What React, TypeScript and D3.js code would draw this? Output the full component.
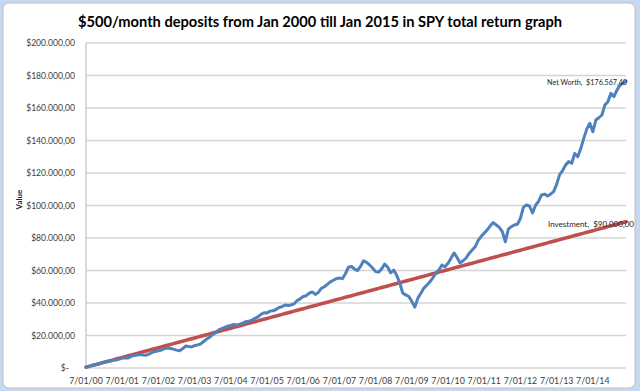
import React, { useRef, useEffect } from "react";
import * as d3 from "d3";

// monthly values, Jan 2000 .. Dec 2014
const netWorth = [
  500, 990, 1580, 2030, 2490, 3050, 3500, 4080, 4350, 4810, 4950, 5480,
  6150, 6100, 6200, 7200, 7750, 8050, 8300, 8000, 7900, 8700, 9600, 10200,
  10600, 11000, 12000, 12300, 12000, 11600, 11000, 10600, 11800, 13500, 13200, 13000,
  13800, 14200, 14800, 16300, 17800, 19000, 20500, 21800, 23400, 24200, 25000, 25800,
  26200, 26800, 26500, 27000, 27600, 28500, 28800, 29500, 30500, 31500, 33000, 34000,
  33800, 35000, 35200, 36000, 37200, 37800, 38800, 38500, 38800, 39500, 41500, 42500,
  44000, 44500, 46000, 46800, 45300, 46500, 49000, 50000, 51500, 53000, 54000, 55000,
  55400, 55000, 58000, 62000, 62500, 60800, 60000, 62500, 66000, 65000, 63400, 61500,
  59300, 59000, 61000, 64000, 62000, 58600, 60300, 57000, 52300, 46100, 45000, 44000,
  41000, 37500, 43000, 46000, 49200, 51000, 53100, 55500, 58500, 60500, 63400, 62200,
  64500, 67500, 70800, 68000, 64600, 66000, 67700, 70500, 72600, 74600, 78500, 81000,
  83000, 85000, 87500, 89500, 88000, 86500, 83900, 77700, 85500, 87000, 88000, 88500,
  92000, 99000, 100300, 99700, 95400, 100000, 102500, 106500, 107000, 105800, 107000, 108500,
  113000, 119000, 121500, 125000, 127000, 126000, 132000, 130000, 135000, 141300, 147000, 150600,
  145400, 152600, 154000, 155700, 161800, 163900, 169000, 167000, 171000, 174000, 175200, 176567.4,
];

const investment = [
  500, 1000, 1500, 2000, 2500, 3000, 3500, 4000, 4500, 5000, 5500, 6000,
  6500, 7000, 7500, 8000, 8500, 9000, 9500, 10000, 10500, 11000, 11500, 12000,
  12500, 13000, 13500, 14000, 14500, 15000, 15500, 16000, 16500, 17000, 17500, 18000,
  18500, 19000, 19500, 20000, 20500, 21000, 21500, 22000, 22500, 23000, 23500, 24000,
  24500, 25000, 25500, 26000, 26500, 27000, 27500, 28000, 28500, 29000, 29500, 30000,
  30500, 31000, 31500, 32000, 32500, 33000, 33500, 34000, 34500, 35000, 35500, 36000,
  36500, 37000, 37500, 38000, 38500, 39000, 39500, 40000, 40500, 41000, 41500, 42000,
  42500, 43000, 43500, 44000, 44500, 45000, 45500, 46000, 46500, 47000, 47500, 48000,
  48500, 49000, 49500, 50000, 50500, 51000, 51500, 52000, 52500, 53000, 53500, 54000,
  54500, 55000, 55500, 56000, 56500, 57000, 57500, 58000, 58500, 59000, 59500, 60000,
  60500, 61000, 61500, 62000, 62500, 63000, 63500, 64000, 64500, 65000, 65500, 66000,
  66500, 67000, 67500, 68000, 68500, 69000, 69500, 70000, 70500, 71000, 71500, 72000,
  72500, 73000, 73500, 74000, 74500, 75000, 75500, 76000, 76500, 77000, 77500, 78000,
  78500, 79000, 79500, 80000, 80500, 81000, 81500, 82000, 82500, 83000, 83500, 84000,
  84500, 85000, 85500, 86000, 86500, 87000, 87500, 88000, 88500, 89000, 89500, 90000,
];

const tickLabels = [
  "7/01/00", "7/01/01", "7/01/02", "7/01/03", "7/01/04", "7/01/05", "7/01/06", "7/01/07",
  "7/01/08", "7/01/09", "7/01/10", "7/01/11", "7/01/12", "7/01/13", "7/01/14",
];

const yTicks = [0, 20000, 40000, 60000, 80000, 100000, 120000, 140000, 160000, 180000, 200000];

const fmtMoney = (v: number) => {
  if (v === 0) return "$-";
  const [int, dec] = v.toFixed(2).split(".");
  return "$" + int.replace(/\B(?=(\d{3})+(?!\d))/g, ".") + "," + dec;
};

const App = () => {
  const svgRef = useRef<SVGSVGElement>(null);

  useEffect(() => {
    const width = 640;
    const height = 391;
    const svg = d3.select(svgRef.current).attr("width", width).attr("height", height);
    svg.selectAll("*").remove();

    const font = "Lato, 'Open Sans', sans-serif";
    const left = 86, right = 626, top = 43, bottom = 368;

    // window frame + chart area
    svg.append("rect").attr("width", width).attr("height", height).attr("fill", "#c6d9f1");
    svg.append("rect")
      .attr("x", 3).attr("y", 3).attr("width", 632).attr("height", 385)
      .attr("rx", 6).attr("fill", "#fff").attr("stroke", "#bfbfbf");

    const x = d3.scaleLinear().domain([0, netWorth.length - 1]).range([left, right]);
    const y = d3.scaleLinear().domain([0, 200000]).range([bottom, top]);

    // gridlines
    svg.append("g")
      .selectAll("line")
      .data(yTicks)
      .enter()
      .append("line")
      .attr("x1", left).attr("x2", right)
      .attr("y1", d => y(d)).attr("y2", d => y(d))
      .attr("stroke", "#d4d4d4").attr("stroke-width", 1.3);

    svg.append("line")
      .attr("x1", left).attr("x2", left).attr("y1", top).attr("y2", bottom)
      .attr("stroke", "#c8c8c8").attr("stroke-width", 1.3);

    // y labels
    svg.append("g")
      .selectAll("text")
      .data(yTicks)
      .enter()
      .append("text")
      .attr("x", d => (d === 0 ? 69 : 75))
      .attr("y", d => y(d) + 3)
      .attr("text-anchor", "end")
      .attr("font-family", font).attr("font-size", "8.6px").attr("fill", "#404040")
      .text(d => fmtMoney(d));

    // x labels
    svg.append("g")
      .selectAll("text")
      .data(tickLabels)
      .enter()
      .append("text")
      .attr("x", (d, i) => x(i * 12))
      .attr("y", 384)
      .attr("text-anchor", "middle")
      .attr("font-family", font).attr("font-size", "8.8px").attr("fill", "#404040")
      .text(d => d);

    svg.append("text")
      .attr("transform", `translate(22,${(top + bottom) / 2 - 6}) rotate(-90)`)
      .attr("text-anchor", "middle")
      .attr("font-family", font).attr("font-size", "8px").attr("font-weight", "bold").attr("fill", "#262626")
      .text("Value");

    svg.append("text")
      .attr("x", 320).attr("y", 27)
      .attr("text-anchor", "middle")
      .attr("font-family", font).attr("font-size", "15px").attr("font-weight", "bold").attr("fill", "#000")
      .attr("textLength", 484).attr("lengthAdjust", "spacingAndGlyphs")
      .text("$500/month deposits from Jan 2000 till Jan 2015 in SPY total return graph");

    const line = d3.line<number>()
      .x((d, i) => x(i))
      .y(d => y(d));

    svg.append("path")
      .datum(investment)
      .attr("fill", "none").attr("stroke", "#c0504d").attr("stroke-width", 3.5)
      .attr("stroke-linejoin", "round").attr("stroke-linecap", "round")
      .attr("d", line);

    svg.append("path")
      .datum(netWorth)
      .attr("fill", "none").attr("stroke", "#4f81bd").attr("stroke-width", 3)
      .attr("stroke-linejoin", "round").attr("stroke-linecap", "round")
      .attr("d", line);

    // end labels
    const last = netWorth.length - 1;
    svg.append("text")
      .attr("x", 547).attr("y", 85)
      .attr("font-family", font).attr("font-size", "8.3px").attr("fill", "#262626")
      .attr("xml:space", "preserve")
      .attr("textLength", 80).attr("lengthAdjust", "spacingAndGlyphs")
      .text(`Net Worth,  ${fmtMoney(netWorth[last])}`);

    svg.append("text")
      .attr("x", 548).attr("y", y(investment[last]) + 5)
      .attr("font-family", font).attr("font-size", "8.3px").attr("fill", "#262626")
      .attr("xml:space", "preserve")
      .attr("textLength", 86).attr("lengthAdjust", "spacingAndGlyphs")
      .text(`Investment,  ${fmtMoney(investment[last])}`);
  }, []);

  return <svg ref={svgRef} style={{ position: "absolute", left: 0, top: 0 }}></svg>;
};

export default App;
